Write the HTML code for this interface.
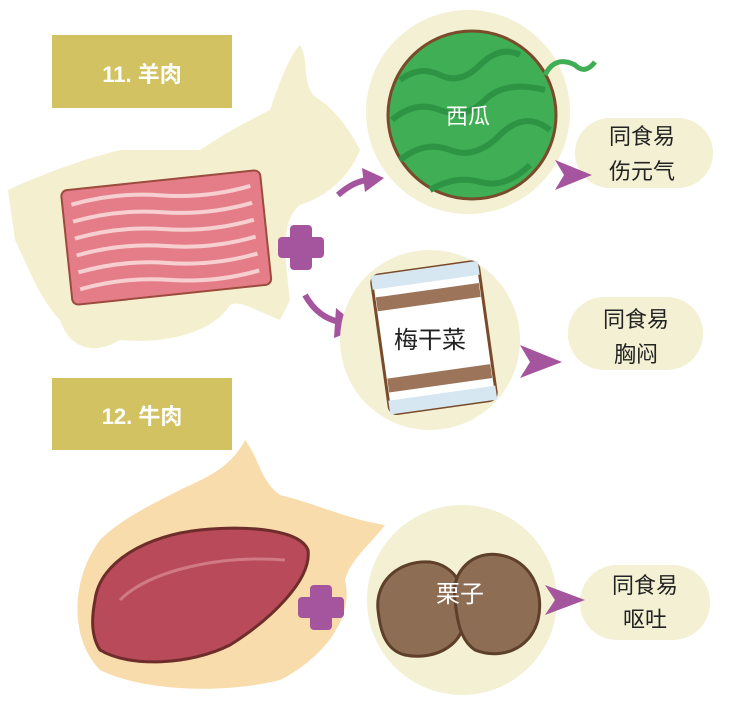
<!DOCTYPE html>
<html><head><meta charset="utf-8"><style>
html,body{margin:0;padding:0;background:#fff;width:737px;height:719px;overflow:hidden}
svg{display:block}
text{font-family:"Liberation Sans","Noto Sans CJK SC",sans-serif}
</style></head><body>
<svg width="737" height="719" viewBox="0 0 737 719" xmlns="http://www.w3.org/2000/svg">
<path d="M8,190 C40,175 80,160 120,150 L200,150 C230,130 250,120 270,110 C280,80 290,55 300,45 C310,60 300,90 320,100 C335,110 350,130 360,150 C350,175 330,195 300,205 C280,220 285,260 290,300 L280,320 C255,310 240,300 230,305 C215,330 170,345 120,340 C95,355 70,350 60,320 C40,300 25,260 15,240 Z" fill="#f4f0cf"/>
<rect x="52" y="35" width="180" height="73" fill="#d2c262"/>
<text x="142" y="82" font-size="22" fill="#fff" text-anchor="middle" font-weight="bold">11. 羊肉</text>
<g transform="rotate(-6 166 235)">
<rect x="66" y="180" width="200" height="115" rx="6" fill="#e57d88" stroke="#9c4b3f" stroke-width="2"/>
<g stroke="#f7cfd0" stroke-width="4" fill="none">
<path d="M75,195 Q120,187 165,195 T255,195"/><path d="M75,212 Q120,204 165,212 T255,212"/>
<path d="M75,229 Q120,221 165,229 T255,229"/><path d="M75,246 Q120,238 165,246 T255,246"/>
<path d="M75,263 Q120,255 165,263 T255,263"/><path d="M75,280 Q120,272 165,280 T255,280"/></g></g>
<g fill="#a4559d"><rect x="290" y="225" width="22" height="45" rx="4"/><rect x="278" y="237" width="46" height="21" rx="4"/></g>
<path d="M338,195 Q355,180 370,180" stroke="#a4559d" stroke-width="6" fill="none"/>
<path d="M362,168 L384,178 L365,192 Z" fill="#a4559d"/>
<path d="M305,295 Q318,318 340,322" stroke="#a4559d" stroke-width="6" fill="none"/>
<path d="M336,308 L360,328 L334,338 Z" fill="#a4559d"/>
<circle cx="468" cy="112" r="102" fill="#f3f0d3"/>
<circle cx="472" cy="115" r="84" fill="#3fae54" stroke="#7a4b2a" stroke-width="3"/>
<g stroke="#2d9444" stroke-width="6" fill="none">
<path d="M400,80 Q420,65 440,75 T480,65 T520,55"/><path d="M392,120 Q415,100 440,110 T485,100 T545,90"/>
<path d="M400,160 Q425,140 450,150 T500,135 T550,130"/><path d="M430,190 Q455,175 480,182 T530,165"/></g>
<path d="M545,75 Q555,55 575,65 Q585,75 595,62" stroke="#3fae54" stroke-width="5" fill="none"/>
<text x="468" y="124" font-size="22" fill="#fff" text-anchor="middle">西瓜</text>
<rect x="575" y="118" width="138" height="70" rx="35" fill="#f3f0d3"/>
<text x="642" y="144" font-size="22" fill="#222" text-anchor="middle">同食易</text>
<text x="642" y="179" font-size="22" fill="#222" text-anchor="middle">伤元气</text>
<path d="M555,160 L592,175 L555,190 L564,175 Z" fill="#a4559d"/>
<circle cx="430" cy="340" r="90" fill="#f3f0d3"/>
<g transform="rotate(-8 432 338)">
<rect x="380" y="268" width="108" height="140" rx="8" fill="#fff" stroke="#7a4b2a" stroke-width="3"/>
<rect x="380" y="268" width="108" height="14" fill="#d7e7f2"/>
<rect x="380" y="394" width="108" height="14" fill="#d7e7f2"/>
<rect x="382" y="290" width="104" height="14" fill="#9b7459"/>
<rect x="382" y="372" width="104" height="14" fill="#9b7459"/></g>
<text x="430" y="348" font-size="24" fill="#222" text-anchor="middle">梅干菜</text>
<rect x="568" y="297" width="135" height="73" rx="36" fill="#f3f0d3"/>
<text x="636" y="327" font-size="22" fill="#222" text-anchor="middle">同食易</text>
<text x="636" y="362" font-size="22" fill="#222" text-anchor="middle">胸闷</text>
<path d="M520,345 L562,362 L520,378 L530,362 Z" fill="#a4559d"/>
<rect x="52" y="378" width="180" height="72" fill="#d2c262"/>
<text x="142" y="424" font-size="22" fill="#fff" text-anchor="middle" font-weight="bold">12. 牛肉</text>
<path d="M180,490 C200,480 230,470 245,440 C260,460 260,480 280,495 C320,505 350,520 385,525 C370,545 350,560 345,580 C355,620 320,660 280,680 C220,695 140,690 100,670 C70,640 70,580 100,540 C120,520 150,505 180,490 Z" fill="#f8dcab"/>
<path d="M95,600 C100,560 150,535 200,530 C250,525 300,530 308,550 C312,580 270,620 230,645 C190,665 130,668 100,650 C90,635 92,615 95,600 Z" fill="#b84a5a" stroke="#6e2d2a" stroke-width="3"/>
<path d="M120,600 C150,570 220,555 285,560" stroke="#d07a84" stroke-width="3" fill="none"/>
<g fill="#a4559d"><rect x="310" y="585" width="22" height="45" rx="4"/><rect x="298" y="597" width="46" height="21" rx="4"/></g>
<circle cx="462" cy="600" r="95" fill="#f3f0d3"/>
<path d="M378,610 C375,580 400,560 430,562 C455,565 470,590 465,620 C460,650 430,660 405,655 C385,650 380,630 378,610 Z" fill="#8e6d55" stroke="#5e3f2a" stroke-width="3"/>
<path d="M455,600 C450,570 475,550 500,555 C530,560 545,590 538,620 C530,650 500,660 475,650 C460,640 457,620 455,600 Z" fill="#8e6d55" stroke="#5e3f2a" stroke-width="3"/>
<text x="460" y="602" font-size="24" fill="#fff" text-anchor="middle">栗子</text>
<rect x="580" y="565" width="130" height="75" rx="37" fill="#f3f0d3"/>
<text x="645" y="593" font-size="22" fill="#222" text-anchor="middle">同食易</text>
<text x="645" y="627" font-size="22" fill="#222" text-anchor="middle">呕吐</text>
<path d="M545,585 L585,600 L545,615 L555,600 Z" fill="#a4559d"/>
</svg>
</body></html>
